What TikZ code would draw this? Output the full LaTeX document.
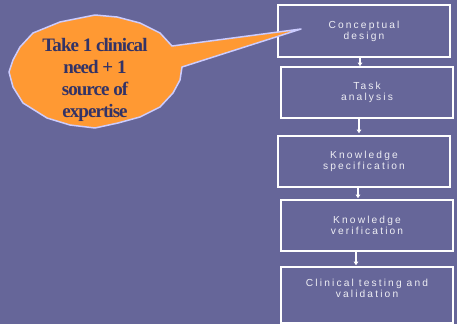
\documentclass[tikz,border=0pt]{standalone}
\usepackage{fontspec}
\usetikzlibrary{arrows.meta, positioning, calc}
\newfontfamily\stagefont[LetterSpace=21]{Liberation Sans}
\newfontfamily\bubblefont[LetterSpace=-5]{Liberation Serif}
\definecolor{slide}{HTML}{666699}
\definecolor{bubble}{HTML}{FF9933}
\definecolor{rim}{HTML}{CCCCFF}
\definecolor{ink}{HTML}{333366}
\definecolor{pale}{HTML}{EEEEF4}

\begin{document}
\begin{tikzpicture}[x=1pt, y=-1pt,
    stage/.style={draw=white, line width=1.6pt, minimum width=172pt, minimum height=51pt,
        inner sep=0pt, align=center, text=pale, font=\stagefont\fontsize{10.2}{10.8}\selectfont},
    flow/.style={draw=white, line width=1.3pt, -{Triangle[length=3.5pt,width=4.5pt]}}]
    \fill[slide] (0,0) rectangle (457,324);
    \useasboundingbox (0,0) rectangle (457,324);
    % the steps
    \node[stage, minimum height=52pt] (concept) at (364,31) {Conceptual\\design};
    \node[stage] (task) at (367,92.5) {Task\\analysis};
    \node[stage] (spec) at (364,161.5) {Knowledge\\specification};
    \node[stage] (verif) at (367,225.5) {Knowledge\\verification};
    \node[stage, minimum height=56pt] (clinic) at (367,295) {Clinical testing and\\validation\\[3pt]};
    \draw[flow] ([xshift=-4pt]concept.south) -- ([xshift=-4pt]concept.south |- task.north);
    \draw[flow] ([xshift=-8pt]task.south) -- ([xshift=-8pt,yshift=2pt]task.south |- spec.north);
    \draw[flow] ([xshift=-6pt]spec.south) -- ([xshift=-6pt,yshift=1pt]spec.south |- verif.north);
    \draw[flow] ([xshift=-11pt]verif.south) -- ([xshift=-11pt,yshift=1pt]verif.south |- clinic.north);
    % callout
    \coordinate (tip) at (301,29);
    \draw[fill=bubble, draw=rim, line width=1.5pt, line join=round]
        (95,15) -- (117,17) -- (140,23) -- (160,33) -- (172,46) -- (tip) -- (182,67)
        -- (180,80) -- (173,93) -- (160,107) -- (140,117) -- (118,123) -- (95,128)
        -- (70,125) -- (47,118) -- (23,103) -- (13,87) -- (9,72) -- (13,60)
        -- (20,47) -- (33,33) -- (60,22) -- cycle;
    \node[text=ink, align=center, inner sep=0pt, font=\bubblefont\bfseries\fontsize{19}{22}\selectfont]
        (need) at (95,80) {Take 1 clinical\\need + 1\\source of\\expertise};
\end{tikzpicture}
\end{document}
